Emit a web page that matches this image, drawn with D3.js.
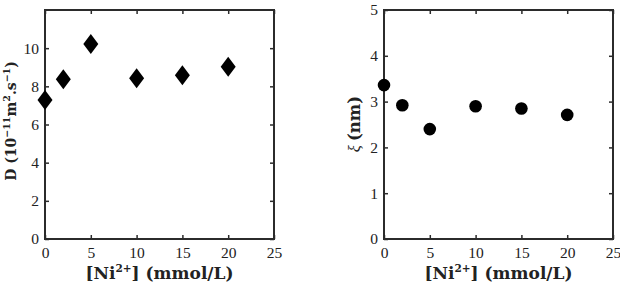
<!DOCTYPE html>
<html>
<head>
<meta charset="utf-8">
<script src="https://cdn.jsdelivr.net/npm/d3@7"></script>
<style>
  body { margin: 0; background: #fff; }
  text { font-family: "Liberation Serif", "DejaVu Serif", serif; fill: #222; }
  .lbl { font-family: "DejaVu Serif", serif; font-weight: bold; }
</style>
</head>
<body>
<svg id="chart" width="620" height="289"></svg>
<script>
// data
const concentrations = [0, 2, 5, 10, 15, 20];            // [Ni2+] mmol/L
const diffusion = [7.28, 8.37, 10.22, 8.42, 8.58, 9.03]; // D (1e-11 m2/s)
const xi = [3.36, 2.92, 2.40, 2.90, 2.85, 2.71];          // correlation length (nm)
const xTicks = [0, 5, 10, 15, 20, 25];
const dTicks = [0, 2, 4, 6, 8, 10];
const xiTicks = [0, 1, 2, 3, 4, 5];

const svg = d3.select('#chart');
const frameColor = '#2b2b2b';
const fmt = d3.format('d');

// appends base text then a superscript, returns a tspan back on the baseline
function sup(el, base, exp, size, rise) {
  el.append('tspan').text(base);
  el.append('tspan').text(exp).attr('font-size', size).attr('dy', -rise);
  return el.append('tspan').attr('dy', rise);
}

function panel(opts) {
  const { left, right, top, bottom, yMax, yTicks, values, marker } = opts;
  const x = d3.scaleLinear().domain([0, 25]).range([left, right]);
  const y = d3.scaleLinear().domain([0, yMax]).range([bottom, top]);
  const g = svg.append('g');

  // inward ticks on all four sides
  g.append('g').attr('transform', `translate(0,${bottom})`)
    .call(d3.axisBottom(x).tickValues(xTicks).tickFormat(fmt).tickSizeInner(-4).tickSizeOuter(0).tickPadding(8))
    .call(a => a.selectAll('text').attr('font-size', 15.5).attr('fill', '#222'));
  g.append('g').attr('transform', `translate(0,${top})`)
    .call(d3.axisTop(x).tickValues(xTicks).tickSizeInner(-4).tickSizeOuter(0).tickFormat(''));
  g.append('g').attr('transform', `translate(${left},0)`)
    .call(d3.axisLeft(y).tickValues(yTicks).tickFormat(fmt).tickSizeInner(-4).tickSizeOuter(0).tickPadding(6))
    .call(a => a.selectAll('text').attr('font-size', 15.5).attr('fill', '#222'));
  g.append('g').attr('transform', `translate(${right},0)`)
    .call(d3.axisRight(y).tickValues(yTicks).tickSizeInner(-4).tickSizeOuter(0).tickFormat(''));
  g.selectAll('.domain').remove();
  g.selectAll('.tick line').attr('stroke', frameColor).attr('stroke-width', 1.5);

  g.append('rect')
    .attr('x', left).attr('y', top)
    .attr('width', right - left).attr('height', bottom - top)
    .attr('fill', 'none').attr('stroke', frameColor).attr('stroke-width', 2);

  const pts = concentrations.map((c, i) => [x(c), y(values[i])]);
  if (marker === 'diamond') {
    g.selectAll('path.mark').data(pts).join('path')
      .attr('class', 'mark')
      .attr('d', d => `M${d[0]},${d[1] - 10} L${d[0] + 7.5},${d[1]} L${d[0]},${d[1] + 10} L${d[0] - 7.5},${d[1]} Z`)
      .attr('fill', '#000');
  } else {
    g.selectAll('circle.mark').data(pts).join('circle')
      .attr('class', 'mark')
      .attr('cx', d => d[0]).attr('cy', d => d[1]).attr('r', 6.3)
      .attr('fill', '#000');
  }

  const xl = g.append('text').attr('class', 'lbl')
    .attr('x', (left + right) / 2).attr('y', 279)
    .attr('text-anchor', 'middle').attr('font-size', 17);
  sup(xl, '[Ni', '2+', 10.5, 7).text('] (mmol/L)');
  return g;
}

const left = panel({ left: 45, right: 274, top: 10, bottom: 239, yMax: 12, yTicks: dTicks, values: diffusion, marker: 'diamond' });
const right = panel({ left: 384, right: 613, top: 10, bottom: 239, yMax: 5, yTicks: xiTicks, values: xi, marker: 'circle' });

// y labels
const yl1 = left.append('text').attr('class', 'lbl')
  .attr('transform', 'translate(16,121) rotate(-90)')
  .attr('text-anchor', 'middle').attr('font-size', 14);
sup(yl1, 'D (10', '\u221211', 9.5, 6).text('m');
yl1.append('tspan').text('2').attr('font-size', 9.5).attr('dy', -6);
yl1.append('tspan').text('.s').attr('dy', 6);
yl1.append('tspan').text('\u22121').attr('font-size', 9.5).attr('dy', -6);
yl1.append('tspan').text(')').attr('dy', 6);

const yl2 = right.append('text')
  .attr('transform', 'translate(360,124) rotate(-90)')
  .attr('text-anchor', 'middle').attr('font-size', 16.5);
yl2.append('tspan').text('\u03be ').attr('font-style', 'italic');
yl2.append('tspan').text('(nm)').attr('class', 'lbl');
</script>
</body>
</html>
